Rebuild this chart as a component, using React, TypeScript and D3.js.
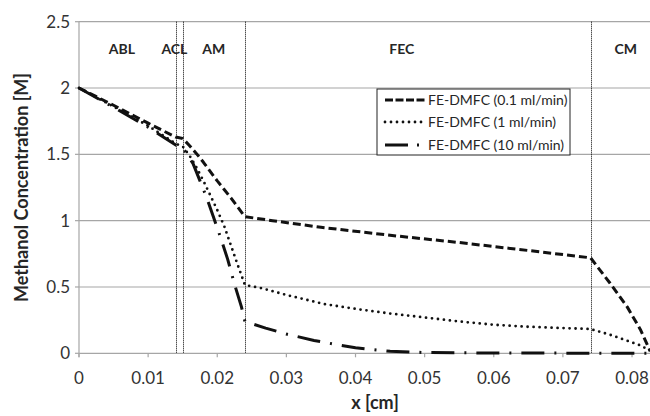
import React from "react";
import * as d3 from "d3";

// Methanol concentration profiles across the fuel-electrode DMFC layers
const xFlow01 = [0, 0.005, 0.01, 0.014, 0.015, 0.016, 0.017, 0.018, 0.019, 0.02, 0.021, 0.022, 0.023, 0.024, 0.028, 0.035, 0.045, 0.055, 0.065, 0.074, 0.0768, 0.0793, 0.0812, 0.0826];
const cFlow01 = [2.0, 1.87, 1.735, 1.63, 1.62, 1.565, 1.505, 1.44, 1.37, 1.3, 1.235, 1.17, 1.1, 1.03, 1.0, 0.95, 0.89, 0.835, 0.775, 0.72, 0.53, 0.35, 0.18, 0.02];

const xFlow1 = [0, 0.005, 0.01, 0.014, 0.015, 0.016, 0.017, 0.018, 0.019, 0.02, 0.021, 0.022, 0.023, 0.024, 0.0265, 0.03, 0.0356, 0.04, 0.045, 0.05, 0.055, 0.06, 0.065, 0.07, 0.074, 0.0768, 0.0793, 0.0812, 0.0826];
const cFlow1 = [2.0, 1.86, 1.715, 1.58, 1.56, 1.49, 1.4, 1.3, 1.19, 1.08, 0.96, 0.81, 0.66, 0.515, 0.49, 0.44, 0.37, 0.335, 0.3, 0.27, 0.24, 0.215, 0.2, 0.19, 0.183, 0.14, 0.095, 0.06, 0.02];

const xFlow10 = [0, 0.005, 0.01, 0.014, 0.015, 0.0165, 0.0175, 0.0185, 0.0195, 0.0205, 0.0215, 0.0225, 0.0235, 0.024, 0.027, 0.03, 0.034, 0.037, 0.04, 0.045, 0.05, 0.06, 0.074, 0.0826];
const cFlow10 = [2.0, 1.855, 1.705, 1.57, 1.55, 1.43, 1.3, 1.17, 1.02, 0.87, 0.71, 0.52, 0.35, 0.24, 0.19, 0.145, 0.097, 0.068, 0.042, 0.015, 0.006, 0.002, 0.001, 0.0];

const seriesNames = ["FE-DMFC (0.1 ml/min)", "FE-DMFC (1 ml/min)", "FE-DMFC (10 ml/min)"];

// Layer boundaries [cm] and layer names
const boundaries = [0.014, 0.015, 0.024, 0.074];
const layerNames = ["ABL", "ACL", "AM", "FEC", "CM"];
const layerLabelX = [0.0062, 0.0138, 0.0195, 0.0467, 0.0791];

const xTicks = [0, 0.01, 0.02, 0.03, 0.04, 0.05, 0.06, 0.07, 0.08];
const yTicks = [0, 0.5, 1, 1.5, 2, 2.5];

const W = 650;
const H = 416;
const left = 79;
const right = 650;
const top = 21.7;
const bottom = 353.3;

const FONT = "Lato, 'Open Sans', sans-serif";

type Style = { dash: string; width: number; cap: "butt" | "round" };
const styles: Style[] = [
  { dash: "8 4", width: 3, cap: "butt" },
  { dash: "0 6", width: 2.8, cap: "round" },
  { dash: "23 10 2 10", width: 3, cap: "butt" },
];

export default function App() {
  const x = d3.scaleLinear().domain([0, 0.0826]).range([left, right]);
  const y = d3.scaleLinear().domain([0, 2.5]).range([bottom, top]);

  const line = d3
    .line<[number, number]>()
    .x((d) => x(d[0]))
    .y((d) => y(d[1]));

  const series: [number, number][][] = [
    xFlow01.map((v, i) => [v, cFlow01[i]]),
    xFlow1.map((v, i) => [v, cFlow1[i]]),
    xFlow10.map((v, i) => [v, cFlow10[i]]),
  ];

  const gridColor = "#a6a6a6";
  const textColor = "#333";

  const legX = 377;
  const legY = 89;
  const legW = 193;
  const legH = 66;
  const legRowY = [100, 122, 145];

  return (
    <svg
      width={W}
      height={H}
      style={{ position: "absolute", left: 0, top: 0, background: "#fff" }}
      fontFamily={FONT}
    >
      <rect width={W} height={H} fill="#fff" />

      {/* horizontal gridlines */}
      {yTicks.map((t) => (
        <line key={"g" + t} x1={left} x2={right} y1={y(t)} y2={y(t)} stroke={gridColor} strokeWidth={1.2} />
      ))}

      {/* y axis */}
      <line x1={left} x2={left} y1={top} y2={bottom + 4} stroke={gridColor} strokeWidth={1.2} />
      {yTicks.map((t) => (
        <g key={"yt" + t}>
          <line x1={left - 4} x2={left} y1={y(t)} y2={y(t)} stroke={gridColor} strokeWidth={1.2} />
          <text x={left - 9} y={y(t)} dy="0.36em" textAnchor="end" fontSize={17} fill={textColor}>
            {String(t)}
          </text>
        </g>
      ))}

      {/* x axis ticks */}
      {xTicks.map((t) => (
        <g key={"xt" + t}>
          <line x1={x(t)} x2={x(t)} y1={bottom} y2={bottom + 4} stroke={gridColor} strokeWidth={1.2} />
          <text x={x(t)} y={378} dy="0.36em" textAnchor="middle" fontSize={17} fill={textColor}>
            {String(t)}
          </text>
        </g>
      ))}

      {/* layer boundaries */}
      {boundaries.map((b) => (
        <line
          key={"b" + b}
          x1={Math.round(x(b)) + 0.5}
          x2={Math.round(x(b)) + 0.5}
          y1={top}
          y2={bottom}
          stroke="#000"
          strokeWidth={1}
          strokeDasharray="1 1"
        />
      ))}

      {/* layer names */}
      {layerNames.map((n, i) => (
        <text
          key={n}
          x={x(layerLabelX[i])}
          y={49}
          dy="0.36em"
          textAnchor="middle"
          fontSize={14}
          fontWeight="bold"
          fill="#262626"
        >
          {n}
        </text>
      ))}

      {/* concentration profiles */}
      {series.map((s, i) => (
        <path
          key={"s" + i}
          d={line(s) || ""}
          fill="none"
          stroke="#111"
          strokeWidth={styles[i].width}
          strokeDasharray={styles[i].dash}
          strokeLinecap={styles[i].cap}
          strokeLinejoin="round"
        />
      ))}

      {/* legend */}
      <rect x={legX} y={legY} width={legW} height={legH} fill="#fff" stroke="#222" strokeWidth={1} />
      {seriesNames.map((n, i) => (
        <g key={"l" + i}>
          <line
            x1={385}
            x2={425}
            y1={legRowY[i]}
            y2={legRowY[i]}
            stroke="#111"
            strokeWidth={styles[i].width}
            strokeDasharray={i === 0 ? "8 2.5" : i === 2 ? "23 9 2 9" : styles[i].dash}
            strokeLinecap={styles[i].cap}
          />
          <text x={428} y={legRowY[i]} dy="0.36em" fontSize={14} fill="#262626">
            {n}
          </text>
        </g>
      ))}

      {/* axis titles */}
      <text
        transform={`translate(22,${(top + bottom) / 2}) rotate(-90)`}
        textAnchor="middle"
        dy="0.36em"
        fontSize={18}
        fontWeight="bold"
        fill="#262626"
      >
        Methanol Concentration [M]
      </text>
      <text x={375} y={403} dy="0.36em" textAnchor="middle" fontSize={18} fontWeight="bold" fill="#262626">
        x [cm]
      </text>
    </svg>
  );
}
